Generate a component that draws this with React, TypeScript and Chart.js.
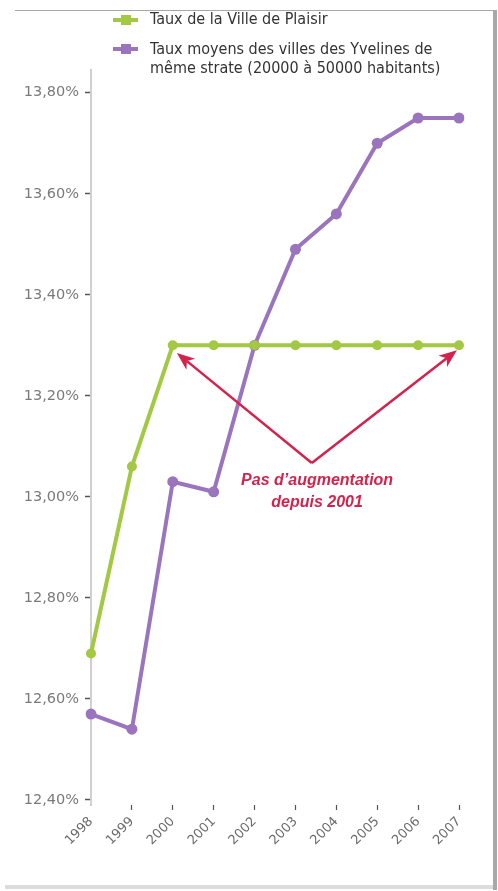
import React, { useEffect, useRef } from "react";
import { Chart, registerables } from "chart.js";

Chart.register(...registerables);

const years = ["1998", "1999", "2000", "2001", "2002", "2003", "2004", "2005", "2006", "2007"];
const plaisir = [12.69, 13.06, 13.3, 13.3, 13.3, 13.3, 13.3, 13.3, 13.3, 13.3];
const yvelines = [12.57, 12.54, 13.03, 13.01, 13.3, 13.49, 13.56, 13.7, 13.75, 13.75];
const yTicks = [12.4, 12.6, 12.8, 13.0, 13.2, 13.4, 13.6, 13.8];
const legendLabels = [
  "Taux de la Ville de Plaisir",
  "Taux moyens des villes des Yvelines de\nmême strate (20000 à 50000 habitants)",
];
const noteLines = ["Pas d\u2019augmentation", "depuis 2001"];
// annotation anchors in data coordinates [categoryIndex, value]
const arrowApex = [5.4, 13.067];
const arrowTips = [
  [2.1, 13.285],
  [8.95, 13.29],
];
const notePos = [
  [5.53, 13.033],
  [5.53, 12.988],
];

const GREEN = "#a3c843";
const PURPLE = "#9a75bd";
const RED = "#d3234c";

const notePlugin = {
  id: "notePlugin",
  afterDatasetsDraw(chart: any) {
    const { ctx, scales } = chart;
    const xs = scales.x;
    const ys = scales.y;
    const px = (i: number) => xs.getPixelForValue(i);
    const py = (v: number) => ys.getPixelForValue(v);
    ctx.save();
    ctx.strokeStyle = RED;
    ctx.fillStyle = RED;
    ctx.lineWidth = 2.5;
    const ax = px(arrowApex[0]);
    const ay = py(arrowApex[1]);
    for (const t of arrowTips) {
      const tx = px(t[0]);
      const ty = py(t[1]);
      const ang = Math.atan2(ty - ay, tx - ax);
      const headLen = 18;
      const hw = 7;
      const bx = tx - headLen * Math.cos(ang);
      const by = ty - headLen * Math.sin(ang);
      const nx = bx + 5 * Math.cos(ang);
      const ny = by + 5 * Math.sin(ang);
      ctx.beginPath();
      ctx.moveTo(ax, ay);
      ctx.lineTo(nx, ny);
      ctx.stroke();
      ctx.beginPath();
      ctx.moveTo(tx, ty);
      ctx.lineTo(bx - hw * Math.sin(ang), by + hw * Math.cos(ang));
      ctx.lineTo(nx, ny);
      ctx.lineTo(bx + hw * Math.sin(ang), by - hw * Math.cos(ang));
      ctx.closePath();
      ctx.fill();
    }
    ctx.font = "italic bold 16px 'Liberation Sans', Arial, sans-serif";
    ctx.textAlign = "center";
    ctx.textBaseline = "middle";
    noteLines.forEach((line, i) => {
      ctx.fillText(line, px(notePos[i][0]), py(notePos[i][1]));
    });
    ctx.restore();
  },
};

export default function App() {
  const ref = useRef<HTMLCanvasElement>(null);

  useEffect(() => {
    document.body.style.margin = "0";
    const chart = new Chart(ref.current as HTMLCanvasElement, {
      type: "line",
      data: {
        labels: years,
        datasets: [
          {
            label: legendLabels[0],
            data: plaisir,
            borderColor: GREEN,
            backgroundColor: GREEN,
            borderWidth: 4,
            pointRadius: 5,
            pointBorderWidth: 0,
            tension: 0,
          },
          {
            label: legendLabels[1],
            data: yvelines,
            borderColor: PURPLE,
            backgroundColor: PURPLE,
            borderWidth: 4,
            pointRadius: 5.5,
            pointBorderWidth: 0,
            tension: 0,
          },
        ],
      },
      options: {
        animation: false,
        responsive: false,
        maintainAspectRatio: false,
        layout: { padding: { left: 0, top: 70, right: 39, bottom: 6 } },
        plugins: { legend: { display: false }, tooltip: { enabled: false } },
        scales: {
          x: {
            type: "category",
            offset: false,
            afterFit: (s: any) => {
              s.height = 80;
            },
            border: { display: false },
            grid: {
              drawOnChartArea: false,
              drawTicks: true,
              tickLength: 5,
              tickColor: (c: any) => (c.index === 0 ? "rgba(0,0,0,0)" : "#555"),
              tickWidth: 1.2,
            },
            ticks: {
              minRotation: 45,
              maxRotation: 45,
              padding: 4,
              color: "#6a6a6a",
              font: { family: "'DejaVu Sans', sans-serif", size: 13 },
            },
          },
          y: {
            min: 12.39,
            max: 13.845,
            afterFit: (s: any) => {
              s.width = 91;
            },
            afterBuildTicks: (s: any) => {
              s.ticks = yTicks.map((v) => ({ value: v }));
            },
            border: { display: true, color: "#d0d0d0", width: 2 },
            grid: {
              drawOnChartArea: false,
              drawTicks: true,
              tickLength: 6,
              tickColor: "#555",
              tickWidth: 1.5,
            },
            ticks: {
              padding: 6,
              color: "#7a7a7a",
              font: { family: "'DejaVu Sans', sans-serif", size: 14.5 },
              callback: (v: any) => Number(v).toFixed(2).replace(".", ",") + "%",
            },
          },
        },
      },
      plugins: [notePlugin],
    } as any);
    return () => chart.destroy();
  }, []);

  const legendFont = "'Liberation Sans Narrow', 'DejaVu Sans Condensed', sans-serif";
  const marker = (color: string, top: number) => (
    <div style={{ position: "absolute", left: 113, top, width: 25, height: 12 }}>
      <div style={{ position: "absolute", left: 0, top: 4, width: 25, height: 4, background: color }} />
      <div style={{ position: "absolute", left: 8, top: 1, width: 10, height: 10, background: color }} />
    </div>
  );

  return (
    <div style={{ position: "relative", width: 498, height: 891, background: "#fff", overflow: "hidden" }}>
      <canvas ref={ref} width={498} height={891} style={{ position: "absolute", left: 0, top: 0, width: 498, height: 891 }} />
      <div style={{ position: "absolute", left: 15, top: 10, width: 478, height: 1, background: "#a8a8a8" }} />
      <div style={{ position: "absolute", left: 493, top: 10, width: 4, height: 880, background: "#a8a8a8" }} />
      <div style={{ position: "absolute", left: 5, top: 885, width: 488, height: 4, background: "#dcdcdc" }} />
      {marker(GREEN, 14)}
      {marker(PURPLE, 43)}
      <div style={{ position: "absolute", left: 150, top: 9, fontFamily: legendFont, fontSize: 16, lineHeight: "20px", color: "#333" }}>
        {legendLabels[0]}
      </div>
      <div style={{ position: "absolute", left: 150, top: 39, fontFamily: legendFont, fontSize: 16, lineHeight: "19px", color: "#333", whiteSpace: "pre" }}>
        {legendLabels[1]}
      </div>
    </div>
  );
}
